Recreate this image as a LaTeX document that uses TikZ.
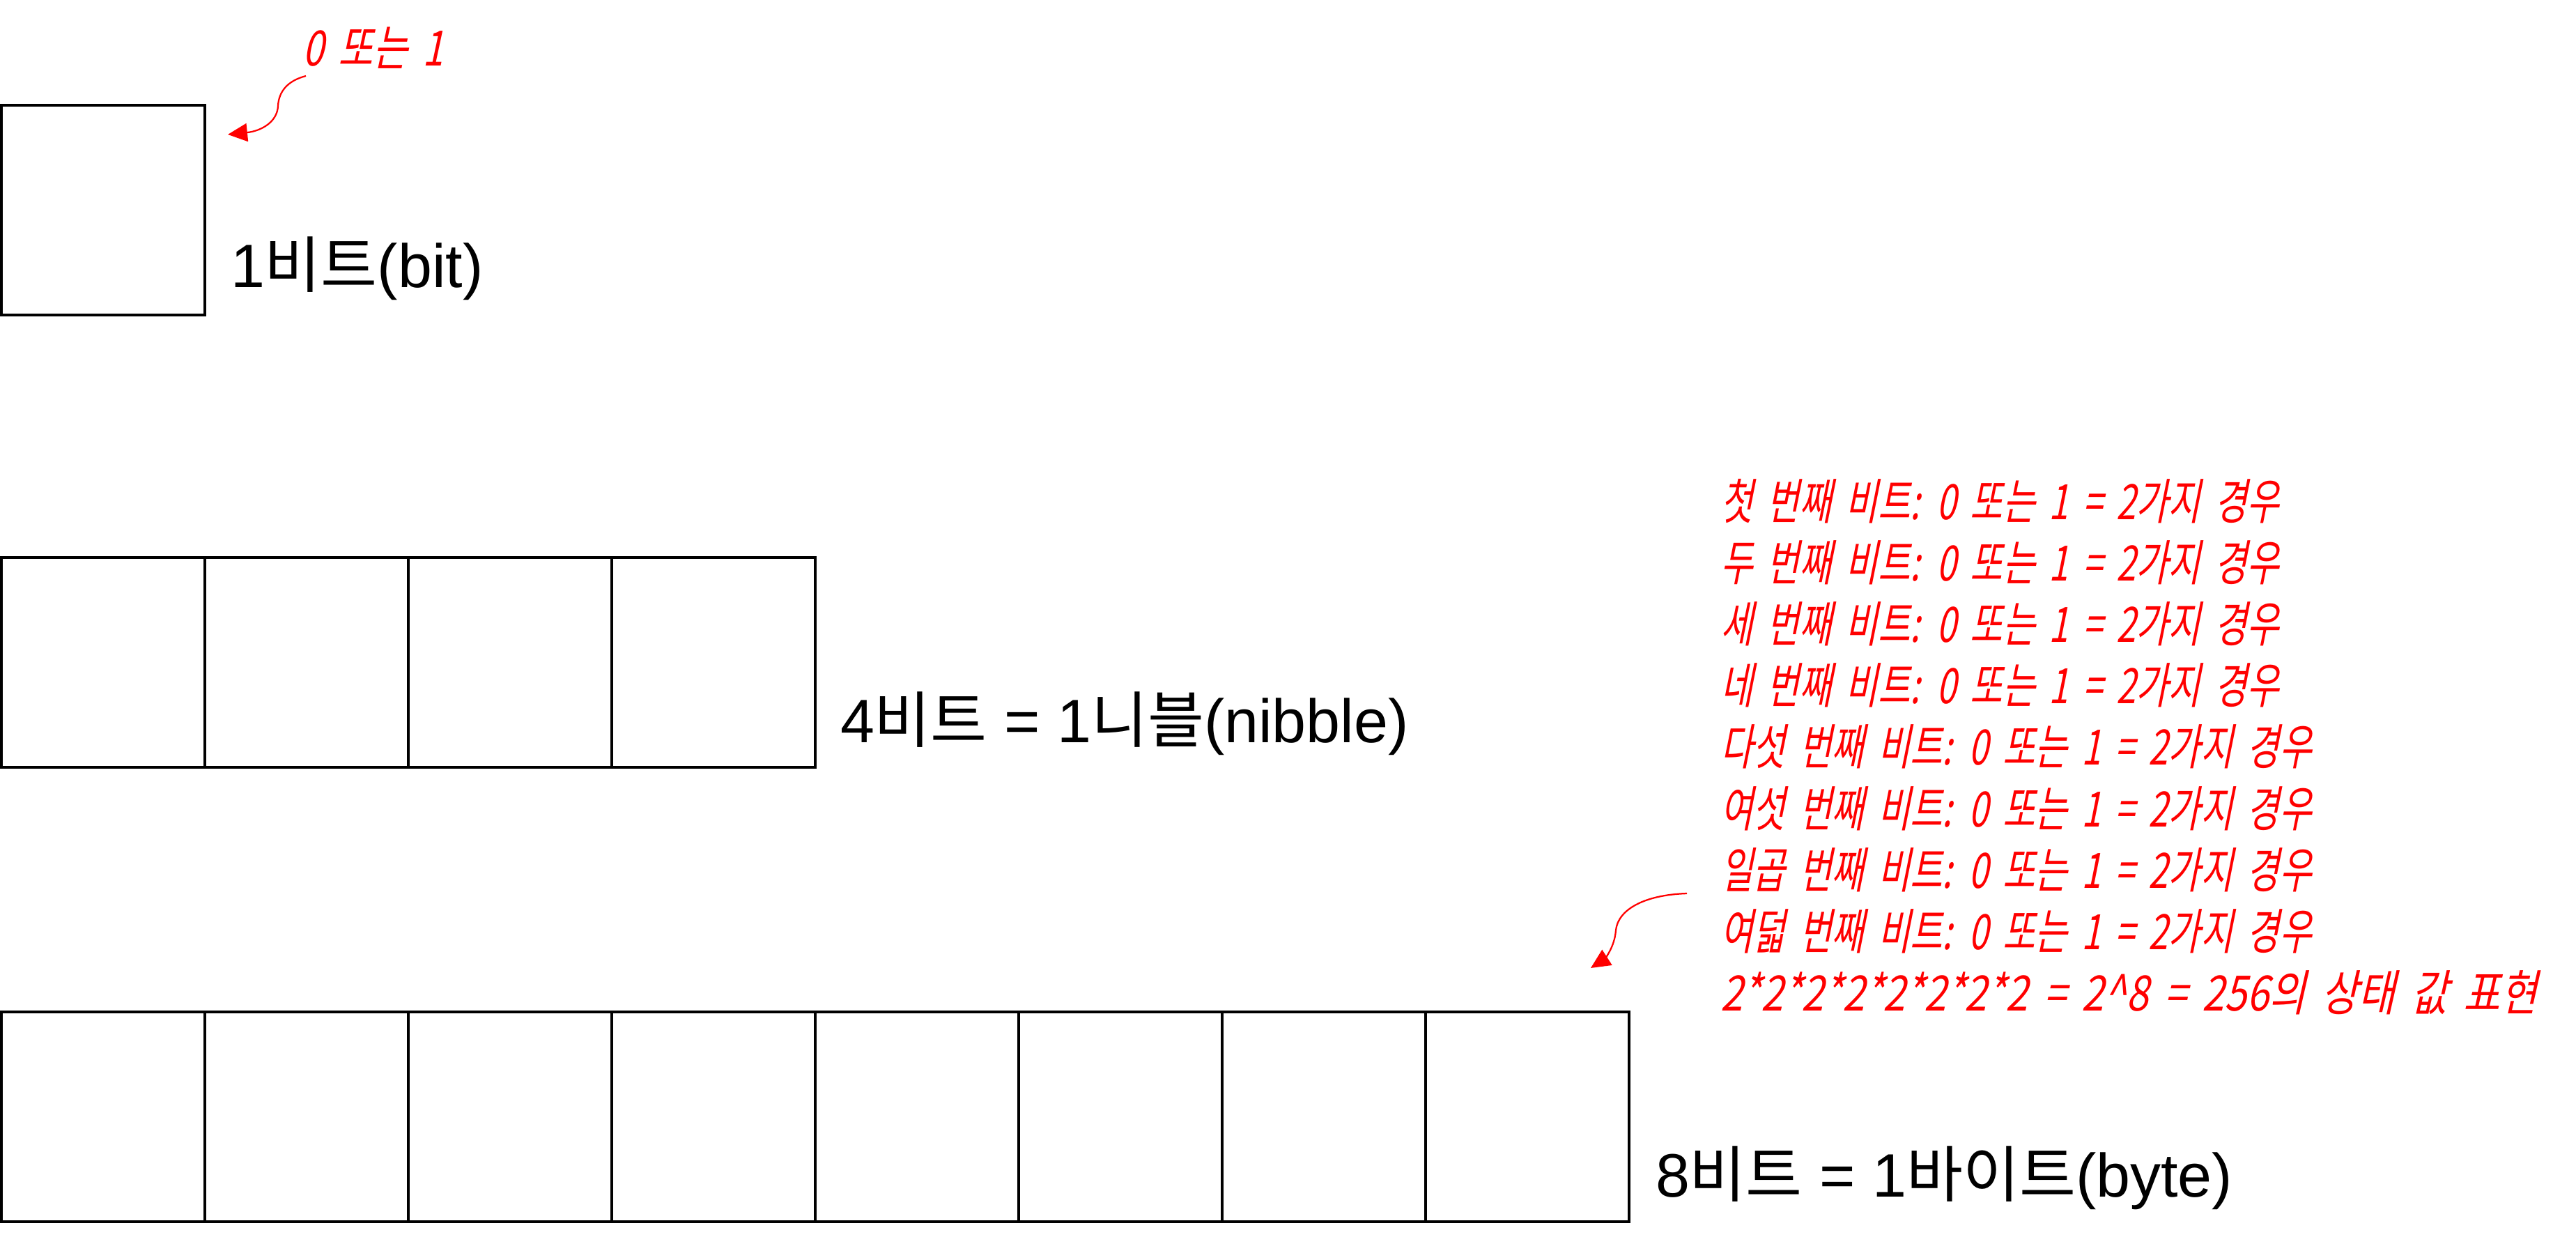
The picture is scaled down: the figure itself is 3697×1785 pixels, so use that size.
\documentclass[tikz,border=0pt]{standalone}
\usepackage{fontspec}
\setmainfont{Liberation Sans}
\newfontfamily\kr{Noto Sans CJK KR}
\newfontfamily\hand[FakeSlant=0.2,FakeStretch=0.72,WordSpace=1.8]{Noto Sans CJK KR}
\usetikzlibrary{arrows.meta}
\begin{document}
\begin{tikzpicture}[x=0.2pt,y=-0.2pt,
  cell/.style={draw,line width=0.9pt,minimum width=58.4pt,minimum height=60.2pt,anchor=north west,inner sep=0pt,outer sep=0pt},
  lbl/.style={anchor=base west,inner sep=0pt,font=\fontsize{17.6}{20}\selectfont},
  note/.style={anchor=base west,inner sep=0pt,text=red,font=\hand\fontsize{14}{16}\selectfont},
  redarrow/.style={draw=red,line width=0.45pt,-{Triangle[length=5.6pt,width=5.2pt]}}
]
\useasboundingbox (0,0) rectangle (3697,1785);
% boxes
\node[cell] (bit) at (2,151) {};
\foreach \i in {0,...,3} \node[cell] (n\i) at ({2+292*\i},800) {};
\foreach \i in {0,...,7} \node[cell] (y\i) at ({2+292*\i},1452) {};
% labels
\node[lbl] (lbit) at (330,413) {1{\kr 비트}(bit)};
\node[lbl] (lnib) at (1205,1065) {4{\kr 비트} = 1{\kr 니블}(nibble)};
\node[lbl] (lbyte) at (2375,1717) {8{\kr 비트} = 1{\kr 바이트}(byte)};
% red notes
\node[note] (z) at (433,95) {\scalebox{1.07}[1]{0 또는 1}};
\node[note] (r1) at (2468,745) {첫 번째 비트: 0 또는 1 = 2가지 경우};
\node[note] (r2) at (2468,833) {두 번째 비트: 0 또는 1 = 2가지 경우};
\node[note] (r3) at (2468,921) {세 번째 비트: 0 또는 1 = 2가지 경우};
\node[note] (r4) at (2468,1009) {네 번째 비트: 0 또는 1 = 2가지 경우};
\node[note] (r5) at (2468,1097) {다섯 번째 비트: 0 또는 1 = 2가지 경우};
\node[note] (r6) at (2468,1186) {여섯 번째 비트: 0 또는 1 = 2가지 경우};
\node[note] (r7) at (2468,1274) {일곱 번째 비트: 0 또는 1 = 2가지 경우};
\node[note] (r8) at (2468,1362) {여덟 번째 비트: 0 또는 1 = 2가지 경우};
\node[note] (r9) at (2468,1450) {\scalebox{1.135}[1]{2*2*2*2*2*2*2*2 = 2\^{}8 = 256의 상태 값 표현}};
% arrows
\coordinate (a1s) at (439,109);
\coordinate (a1t) at (327,193);
\draw[redarrow] (a1s) .. controls (412,116) and (400,132) .. (399,152) .. controls (398,175) and (375,188) .. (a1t);
\coordinate (a2s) at (2421,1282);
\coordinate (a2t) at (2283,1389);
\draw[redarrow] (a2s) .. controls (2360,1284) and (2322,1305) .. (2319,1335) .. controls (2317,1362) and (2300,1378) .. (a2t);
\end{tikzpicture}
\end{document}
